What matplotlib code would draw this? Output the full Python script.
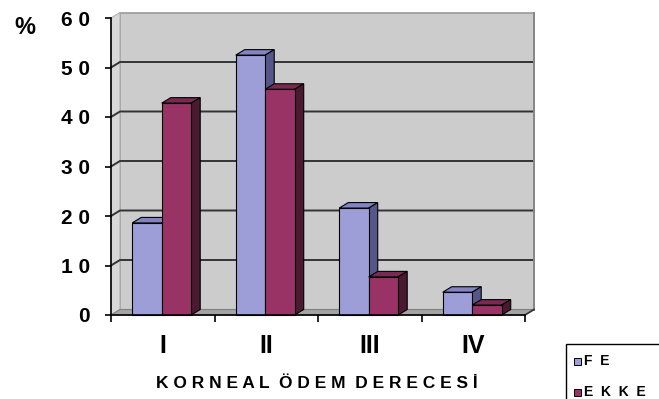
# -*- coding: utf-8 -*-
# Korneal odem derecesi: FE ve EKKE gruplarinin yuzde dagilimi (3B sutun grafik)
import matplotlib
matplotlib.use("Agg")
import matplotlib.pyplot as plt
from matplotlib.patches import Polygon, Rectangle

# veriler
kategoriler = ["I", "II", "III", "IV"]
fe = [18.6, 52.5, 21.6, 4.6]
ekke = [42.8, 45.6, 7.7, 2.0]
y_ticks = [0, 10, 20, 30, 40, 50, 60]
y_etiketler = ["0", "1 0", "2 0", "3 0", "4 0", "5 0", "6 0"]

FONT = ["Liberation Sans", "DejaVu Sans"]

# renkler: on yuz, ust yuz, yan yuz
FE_RENK = ("#9d9dd8", "#8484c4", "#56568a")
EKKE_RENK = ("#993366", "#7a2950", "#4a1a30")

W, H = 659, 399
fig = plt.figure(figsize=(W / 100, H / 100), dpi=100)
fig.patch.set_facecolor("white")

# eksen alani piksel olarak: sol 111, sag 525, alt 315, ust 18
ax = fig.add_axes([111 / W, (H - 315) / H, 414 / W, 297 / H])
ax.set_xlim(0, 4)
ax.set_ylim(0, 60)
ax.patch.set_alpha(0)

# derinlik kaydirmasi (veri birimi)
dx = 9 / 103.5
dy = 5.5 / 4.95

# arka duvar, yan duvar, taban
ax.add_patch(Rectangle((dx, dy), 4, 60, facecolor="#cccccc",
                       edgecolor="#9a9a9a", lw=1.2, clip_on=False, zorder=0))
ax.add_patch(Polygon([(0, 0), (dx, dy), (dx, 60 + dy), (0, 60)], closed=True,
                     facecolor="#d8d8d8", edgecolor="#b0b0b0", lw=0.8,
                     clip_on=False, zorder=0))
ax.add_patch(Polygon([(0, 0), (4, 0), (4 + dx, dy), (dx, dy)], closed=True,
                     facecolor="#a4a4a4", edgecolor="#808080", lw=0.8,
                     clip_on=False, zorder=0.5))

# izgara cizgileri
for v in y_ticks[1:-1]:
    ax.plot([0, dx, 4 + dx], [v, v + dy, v + dy], color="#333333", lw=1.4,
            clip_on=False, zorder=0.6)
ax.plot([4 + dx, 4 + dx], [dy, 60 + dy], color="#888888", lw=1.4,
        clip_on=False, zorder=0.6)
ax.plot([4, 4 + dx], [0, dy], color="#333333", lw=1.2, clip_on=False, zorder=0.6)


def sutun(x0, w, v, renk):
    on, ust, yan = renk
    ax.add_patch(Polygon([(x0, v), (x0 + w, v), (x0 + w + dx, v + dy), (x0 + dx, v + dy)],
                         closed=True, facecolor=ust, edgecolor="black", lw=0.8,
                         clip_on=False, zorder=2))
    ax.add_patch(Polygon([(x0 + w, 0), (x0 + w + dx, dy), (x0 + w + dx, v + dy), (x0 + w, v)],
                         closed=True, facecolor=yan, edgecolor="black", lw=0.8,
                         clip_on=False, zorder=2))
    ax.add_patch(Rectangle((x0, 0), w, v, facecolor=on, edgecolor="black", lw=0.8,
                           clip_on=False, zorder=2))


bw = 0.285
for i in range(len(kategoriler)):
    c = i + 0.49
    sutun(c - bw, bw, fe[i], FE_RENK)
    sutun(c, bw, ekke[i], EKKE_RENK)

# eksenler
for s in ["top", "right"]:
    ax.spines[s].set_visible(False)
for s in ["left", "bottom"]:
    ax.spines[s].set_color("black")
    ax.spines[s].set_linewidth(1.2)
    ax.spines[s].set_zorder(3)

ax.set_yticks(y_ticks)
ax.set_yticklabels(y_etiketler, family=FONT, fontsize=15, fontweight="bold")
ax.tick_params(axis="y", length=4, width=1.2, pad=11, colors="black")

ax.set_xticks(range(5))
ax.set_xticklabels([""] * 5)
ax.tick_params(axis="x", which="major", length=5, width=1.2)
ax.set_xticks([i + 0.5 for i in range(4)], minor=True)
ax.set_xticklabels(kategoriler, minor=True, family=FONT, fontsize=18,
                   fontweight="bold")
ax.tick_params(axis="x", which="minor", length=0, pad=14)

fig.text(25 / W, 1 - 28 / H, "%", family=FONT, fontsize=17, fontweight="bold",
         ha="center", va="center")
fig.text(317 / W, 1 - 384 / H, "K O R N E A L  Ö D E M  D E R E C E S İ",
         family=FONT, fontsize=12.5, fontweight="bold", ha="center", va="center")

# gosterge kutusu (sag alt, resim kenarindan tasiyor)
fig.patches.append(Rectangle((566 / W, -0.05), 0.2, 1 - 344 / H + 0.05,
                             transform=fig.transFigure, facecolor="white",
                             edgecolor="black", lw=1.0, figure=fig))
for yy, renk, etiket in [(361, FE_RENK[0], "F  E"), (392, EKKE_RENK[0], "E  K  K  E")]:
    fig.patches.append(Rectangle((574 / W, 1 - (yy + 3.5) / H), 7 / W, 7 / H,
                                 transform=fig.transFigure, facecolor=renk,
                                 edgecolor="black", lw=0.7, figure=fig))
    fig.text(584 / W, 1 - yy / H, etiket, family=FONT, fontsize=10,
             fontweight="bold", ha="left", va="center")

fig.savefig("out.png", dpi=100)
